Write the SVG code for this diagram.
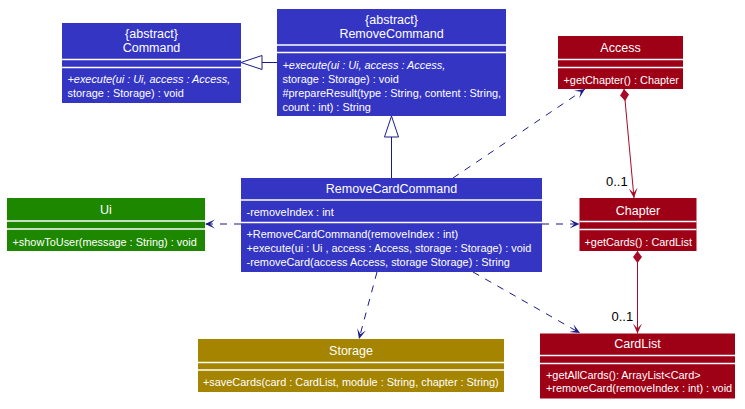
<svg xmlns="http://www.w3.org/2000/svg" width="745" height="409" viewBox="0 0 745 409">
<defs>
<style>
text{font-family:"Liberation Sans",Arial,sans-serif;fill:#ffffff}
.t{font-size:12.5px;text-anchor:middle}
.m{font-size:10.9px}
.i{font-style:italic}
.sep{stroke:#ffffff;stroke-width:1.5}
.blue{fill:#3535C4}
.red{fill:#9E0016}
.green{fill:#1E8700}
.olive{fill:#A58500}
.dep{fill:none;stroke:#1A1A8C;stroke-width:1;stroke-dasharray:7,7;marker-end:url(#arr)}
.comp{fill:none;stroke:#A80A2A;stroke-width:1;marker-start:url(#dia);marker-end:url(#arrR)}
.gen{fill:none;stroke:#1A1A8C;stroke-width:1}
.lbl{fill:#000000;font-size:13px}
</style>
<marker id="arr" viewBox="-10 -5 11 10" refX="0" refY="0" markerWidth="11" markerHeight="10" markerUnits="userSpaceOnUse" orient="auto">
<path d="M0,0 L-10,-4.5 L-5,0 L-10,4.5 Z" fill="#1A1A8C"/>
</marker>
<marker id="arrR" viewBox="-10 -5 11 10" refX="0" refY="0" markerWidth="11" markerHeight="10" markerUnits="userSpaceOnUse" orient="auto">
<path d="M0,0 L-10,-4.5 L-5,0 L-10,4.5 Z" fill="#A80A2A"/>
</marker>
<marker id="dia" viewBox="-1 -5 14 10" refX="0" refY="0" markerWidth="14" markerHeight="10" markerUnits="userSpaceOnUse" orient="auto">
<path d="M0,0 L6,-4.5 L12,0 L6,4.5 Z" fill="#A80A2A"/>
</marker>
</defs>

<g id="connectors">
<path class="dep" d="M241,224 L205,224"/>
<path class="dep" d="M542,224 L579.5,224"/>
<path class="dep" d="M453,178 L585,89"/>
<path class="dep" d="M377,272 L359,339"/>
<path class="dep" d="M473,272 L580,333"/>
<path class="comp" d="M624,89 L634,198"/>
<path class="comp" d="M637.5,251 L637.5,333.5"/>
<path class="gen" d="M262,62.5 L277,62.5"/>
<polygon class="gen" points="241,62.5 262,55.5 262,69.5" fill="#ffffff"/>
<path class="gen" d="M391.5,137 L391.5,178"/>
<polygon class="gen" points="391.5,116 384.5,137 398.5,137" fill="#ffffff"/>
<text class="lbl" x="606" y="186">0..1</text>
<text class="lbl" x="611.5" y="321">0..1</text>
</g>

<g id="Command">
<rect class="blue" x="62" y="23" width="179" height="80"/>
<line class="sep" x1="62" y1="59.5" x2="241" y2="59.5"/>
<line class="sep" x1="62" y1="67.5" x2="241" y2="67.5"/>
<text class="t" x="151.5" y="37.5">{abstract}</text>
<text class="t" x="151.5" y="52">Command</text>
<text class="m i" x="67.5" y="82.5">+execute(ui : Ui, access : Access,</text>
<text class="m" x="67.5" y="96.5">storage : Storage) : void</text>
</g>

<g id="RemoveCommand">
<rect class="blue" x="277" y="9" width="229" height="107"/>
<line class="sep" x1="277" y1="45" x2="506" y2="45"/>
<line class="sep" x1="277" y1="52.5" x2="506" y2="52.5"/>
<text class="t" x="391.5" y="24">{abstract}</text>
<text class="t" x="391.5" y="38">RemoveCommand</text>
<text class="m i" x="282.5" y="68.5">+execute(ui : Ui, access : Access,</text>
<text class="m" x="282.5" y="82.5">storage : Storage) : void</text>
<text class="m" x="282.5" y="96.5">#prepareResult(type : String, content : String,</text>
<text class="m" x="282.5" y="110.5">count : int) : String</text>
</g>

<g id="Access">
<rect class="red" x="558" y="36" width="125" height="53"/>
<line class="sep" x1="558" y1="59.5" x2="683" y2="59.5"/>
<line class="sep" x1="558" y1="67.5" x2="683" y2="67.5"/>
<text class="t" x="620.5" y="52">Access</text>
<text class="m" x="563.5" y="83.5">+getChapter() : Chapter</text>
</g>

<g id="Chapter">
<rect class="red" x="579.5" y="198" width="117" height="53"/>
<line class="sep" x1="579.5" y1="221.5" x2="696.5" y2="221.5"/>
<line class="sep" x1="579.5" y1="229.5" x2="696.5" y2="229.5"/>
<text class="t" x="638" y="214.5">Chapter</text>
<text class="m" x="584.5" y="245.5">+getCards() : CardList</text>
</g>

<g id="RemoveCardCommand">
<rect class="blue" x="241" y="178" width="301" height="94"/>
<line class="sep" x1="241" y1="200" x2="542" y2="200"/>
<line class="sep" x1="241" y1="222.5" x2="542" y2="222.5"/>
<text class="t" x="391.5" y="193">RemoveCardCommand</text>
<text class="m" x="246.5" y="216">-removeIndex : int</text>
<text class="m" x="246.5" y="237.5">+RemoveCardCommand(removeIndex : int)</text>
<text class="m" x="246.5" y="251.5">+execute(ui : Ui , access : Access, storage : Storage) : void</text>
<text class="m" x="246.5" y="265.5">-removeCard(access Access, storage Storage) : String</text>
</g>

<g id="Ui">
<rect class="green" x="7" y="198" width="198" height="53"/>
<line class="sep" x1="7" y1="221" x2="205" y2="221"/>
<line class="sep" x1="7" y1="229" x2="205" y2="229"/>
<text class="t" x="106" y="214">Ui</text>
<text class="m" x="12.5" y="245.5">+showToUser(message : String) : void</text>
</g>

<g id="Storage">
<rect class="olive" x="198" y="339" width="306" height="53"/>
<line class="sep" x1="198" y1="362.5" x2="504" y2="362.5"/>
<line class="sep" x1="198" y1="370" x2="504" y2="370"/>
<text class="t" x="351" y="355">Storage</text>
<text class="m" x="203" y="386">+saveCards(card : CardList, module : String, chapter : String)</text>
</g>

<g id="CardList">
<rect class="red" x="540" y="333.5" width="195" height="65"/>
<line class="sep" x1="540" y1="355.5" x2="735" y2="355.5"/>
<line class="sep" x1="540" y1="363.5" x2="735" y2="363.5"/>
<text class="t" x="637.5" y="347.5">CardList</text>
<text class="m" x="546" y="378.5">+getAllCards(): ArrayList&lt;Card&gt;</text>
<text class="m" x="546" y="392">+removeCard(removeIndex : int) : void</text>
</g>
</svg>
